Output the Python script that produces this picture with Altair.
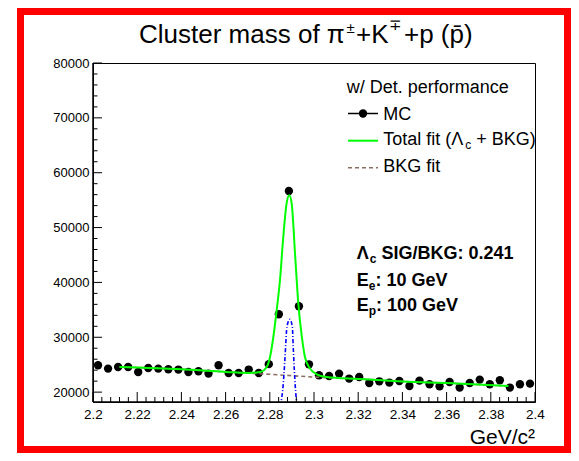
import altair as alt
import pandas as pd

# ---------------- data ----------------
X_LO, X_HI, N_BINS = 2.2, 2.4, 44
mc_counts = [24890, 24290, 24580, 24580, 23670, 24400, 24290, 24160, 24110, 23670,
             23800, 23380, 24890, 23490, 23490, 24110, 23490, 25100, 34190, 56670,
             35650, 25070, 23070, 22940, 23380, 22470, 22760, 21660, 21970, 21740,
             22030, 21120, 22100, 21430, 21060, 21850, 20830, 21660, 22280, 21430,
             22160, 20830, 21430, 21550]

fit_x = [2.212, 2.24, 2.26, 2.27, 2.2756, 2.2786, 2.2801, 2.2816, 2.2831, 2.2846,
         2.2861, 2.2876, 2.2888, 2.2899, 2.2914, 2.2929, 2.2945, 2.2959, 2.2982,
         2.3012, 2.3057, 2.32, 2.34, 2.36, 2.388]
fit_y = [24580, 24160, 23680, 23500, 23670, 24580, 26400, 30050, 34920, 40390,
         48280, 54420, 55880, 54420, 45310, 36190, 30050, 26400, 24290,
         23250, 22760, 22400, 21950, 21650, 21120]

bkg_x = [2.212, 2.24, 2.26, 2.28, 2.30, 2.32, 2.34, 2.36, 2.388]
bkg_y = [24580, 24160, 23680, 23250, 22750, 22400, 21950, 21650, 21120]

sig_x = [2.2848, 2.2861, 2.2869, 2.2876, 2.2885, 2.2891, 2.2902, 2.2906, 2.2911, 2.2919, 2.2926]
sig_y = [17500, 21550, 26400, 31270, 33000, 33280, 31870, 28230, 23980, 19110, 17500]

x_major = [2.2, 2.22, 2.24, 2.26, 2.28, 2.3, 2.32, 2.34, 2.36, 2.38, 2.4]
y_major = [20000, 30000, 40000, 50000, 60000, 70000, 80000]
Y_LO, Y_HI = 18200, 80000

# ---------------- tables ----------------
bw = (X_HI - X_LO) / N_BINS
mc = pd.DataFrame({"x": [X_LO + (i + 0.5) * bw for i in range(N_BINS)], "y": mc_counts})
fit = pd.DataFrame({"x": fit_x, "y": fit_y})
bkg = pd.DataFrame({"x": bkg_x, "y": bkg_y})
sig = pd.DataFrame({"x": sig_x, "y": sig_y})
x_minor = [round(X_LO + 0.004 * i, 3) for i in range(51) if i % 5]
y_minor = [v for v in range(20000, 80000, 2000) if v % 10000]
xmaj = pd.DataFrame({"x": x_major})
xmin = pd.DataFrame({"x": x_minor})
ymaj = pd.DataFrame({"y": y_major})
ymin = pd.DataFrame({"y": y_minor})
one = pd.DataFrame({"k": [0]})

W, H = 442, 339
FONT = "Liberation Sans"

xs = alt.Scale(domain=[X_LO, X_HI], nice=False, zero=False)
ys = alt.Scale(domain=[Y_LO, Y_HI], nice=False, zero=False)

x_axis = alt.Axis(values=x_major, format=".2~f", labelFont=FONT, labelFontSize=13.5,
                  labelColor="black", ticks=False, tickSize=0, grid=False, title=None,
                  labelPadding=5, domain=False, labelFlush=False)
y_axis = alt.Axis(values=y_major, format="d", labelFont=FONT, labelFontSize=13,
                  labelColor="black", ticks=False, tickSize=0, grid=False, title=None,
                  labelPadding=4, domain=False)

points = alt.Chart(mc).mark_circle(size=70, color="black", opacity=1).encode(
    x=alt.X("x:Q", scale=xs, axis=x_axis),
    y=alt.Y("y:Q", scale=ys, axis=y_axis),
)

bkg_line = alt.Chart(bkg).mark_line(color="#8c6e60", strokeWidth=1.6, strokeDash=[4, 3],
                                    interpolate="monotone", clip=True).encode(
    x=alt.X("x:Q", scale=xs), y=alt.Y("y:Q", scale=ys))
sig_line = alt.Chart(sig).mark_line(color="#0000ff", strokeWidth=1.6, strokeDash=[4, 2, 1, 2],
                                    interpolate="monotone", clip=True).encode(
    x=alt.X("x:Q", scale=xs), y=alt.Y("y:Q", scale=ys))
fit_line = alt.Chart(fit).mark_line(color="#00ff00", strokeWidth=2,
                                    interpolate="monotone", clip=True).encode(
    x=alt.X("x:Q", scale=xs), y=alt.Y("y:Q", scale=ys))

# inward ticks (ROOT style)
xt_major = alt.Chart(xmaj).mark_rule(color="black", strokeWidth=1).encode(
    x=alt.X("x:Q", scale=xs), y=alt.value(H), y2=alt.value(H - 10))
xt_minor = alt.Chart(xmin).mark_rule(color="black", strokeWidth=1).encode(
    x=alt.X("x:Q", scale=xs), y=alt.value(H), y2=alt.value(H - 5))
yt_major = alt.Chart(ymaj).mark_rule(color="black", strokeWidth=1).encode(
    y=alt.Y("y:Q", scale=ys), x=alt.value(0), x2=alt.value(9))
yt_minor = alt.Chart(ymin).mark_rule(color="black", strokeWidth=1).encode(
    y=alt.Y("y:Q", scale=ys), x=alt.value(0), x2=alt.value(4.5))
left_axis = alt.Chart(one).mark_rule(color="black", strokeWidth=1.5).encode(
    x=alt.value(0), y=alt.value(0), y2=alt.value(H))
bottom_axis = alt.Chart(one).mark_rule(color="black", strokeWidth=1.5).encode(
    x=alt.value(0), x2=alt.value(W), y=alt.value(H))


def txt(s, x, y, size, bold=False, align="left", color="black"):
    return alt.Chart(one).mark_text(text=s, align=align, baseline="alphabetic", font=FONT,
                                    fontSize=size, fontWeight="bold" if bold else "normal",
                                    color=color).encode(x=alt.value(x), y=alt.value(y))


# red outer frame (kept inside the 563x445 drawing)
frame = alt.Chart(one).mark_rect(fillOpacity=0, stroke="#ff0000", strokeWidth=7).encode(
    x=alt.value(-72.5), x2=alt.value(474.5), y=alt.value(-51.5), y2=alt.value(386.5))

# title (pieces for the superscripts)
TB = -20.5
title = [
    txt("Cluster mass of π", 46, TB, 26),
    txt("±", 253.5, TB - 10, 15),
    txt("+K", 263, TB, 26),
    txt("∓", 296, TB - 13, 15),
    txt("+p (p\u0304)", 311, TB, 26),
]

# legend
LX = 290.3
legend = [
    txt("w/ Det. performance", 253.7, 29.5, 18),
    alt.Chart(one).mark_rule(color="black", strokeWidth=1.5).encode(
        x=alt.value(255), x2=alt.value(285), y=alt.value(50.5)),
    alt.Chart(one).mark_circle(size=70, color="black", opacity=1).encode(
        x=alt.value(270), y=alt.value(50.5)),
    txt("MC", LX, 57, 18),
    alt.Chart(one).mark_rule(color="#00ff00", strokeWidth=2).encode(
        x=alt.value(255), x2=alt.value(285), y=alt.value(77.7)),
    txt("Total fit (Λ", LX, 82, 18),
    txt("c", LX + 82, 86, 12),
    txt("+ BKG)", LX + 93, 82, 18),
    alt.Chart(one).mark_rule(color="#8c6e60", strokeWidth=1.6, strokeDash=[4, 3]).encode(
        x=alt.value(255), x2=alt.value(285), y=alt.value(104.7)),
    txt("BKG fit", LX, 108.7, 18),
]

# annotations
AX = 263.7
notes = [
    txt("Λ", AX, 196, 18, bold=True),
    txt("c", AX + 13, 200, 12, bold=True),
    txt("SIG/BKG: 0.241", AX + 24.7, 196, 18, bold=True),
    txt("E", AX, 223, 18, bold=True),
    txt("e", AX + 12, 227, 12, bold=True),
    txt(": 10 GeV", AX + 18.7, 223, 18, bold=True),
    txt("E", AX, 248, 18, bold=True),
    txt("p", AX + 12, 252, 12, bold=True),
    txt(": 100 GeV", AX + 19.3, 248, 18, bold=True),
]

xtitle = txt("GeV/c²", W, 380.5, 21, align="right")

chart = alt.layer(
    frame, points, bkg_line, sig_line, fit_line,
    xt_major, xt_minor, yt_major, yt_minor, left_axis, bottom_axis,
    *title, *legend, *notes, xtitle,
).properties(
    width=W, height=H,
    autosize=alt.AutoSizeParams(type="none"),
    padding={"left": 85, "top": 55, "right": 36, "bottom": 51},
    background="white",
).configure_view(stroke="black", strokeWidth=1)

chart.save("out.html", embed_options={"renderer": "svg", "actions": False})
